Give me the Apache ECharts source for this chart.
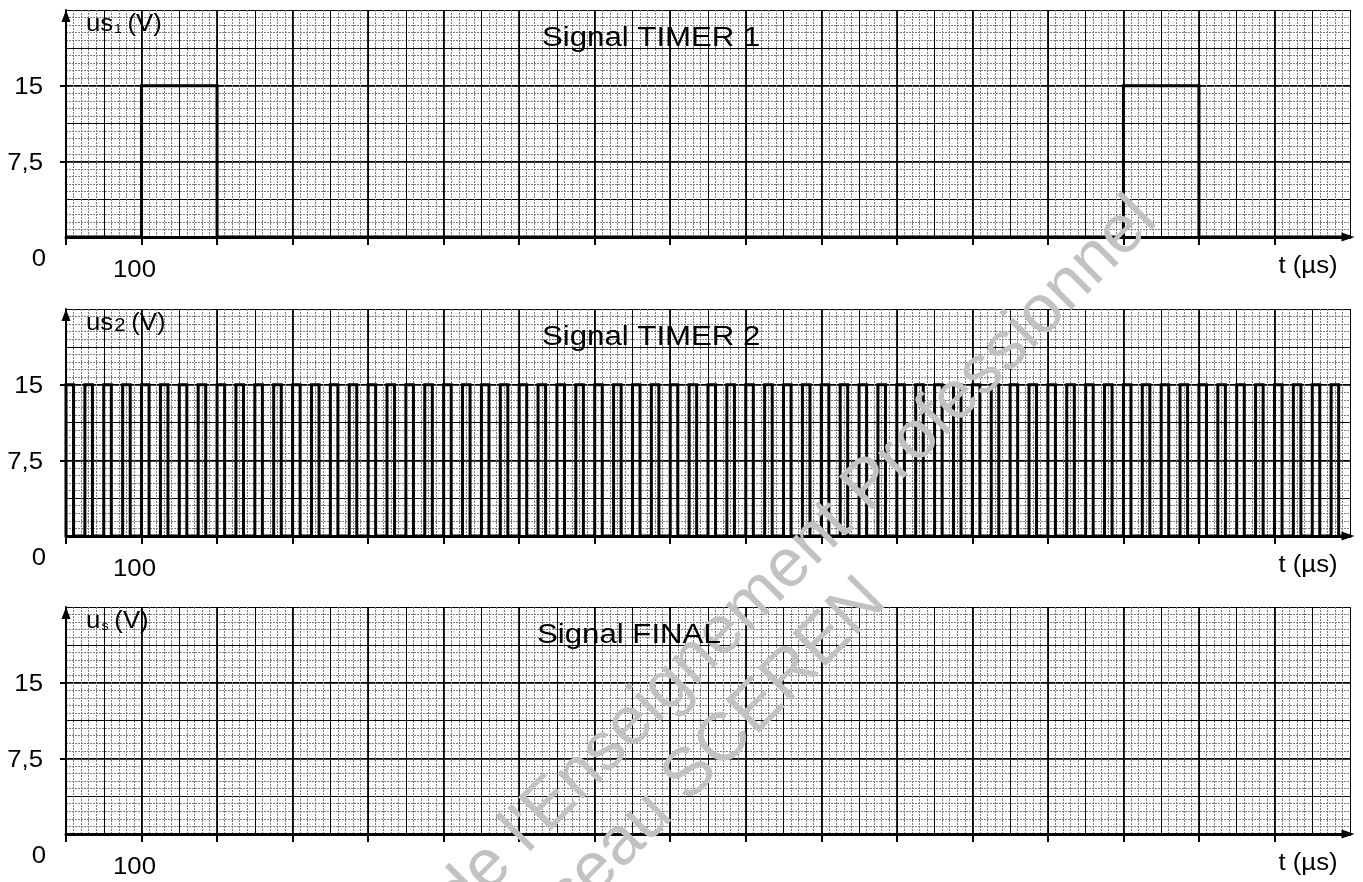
<!DOCTYPE html>
<html>
<head>
<meta charset="utf-8">
<script src="https://cdn.jsdelivr.net/npm/echarts@6/dist/echarts.min.js"></script>
<style>
  html, body { margin: 0; padding: 0; background: #fff; }
  #chart { width: 1363px; height: 882px; }
</style>
</head>
<body>
<div id="chart"></div>
<script>
// ---- axis ranges and labels ----
const T_MAX = 1700;            // µs
const U_MAX = 22.5;            // V
const timeTickValues = [0, 100, 200, 300, 400, 500, 600, 700, 800, 900, 1000, 1100, 1200, 1300, 1400, 1500, 1600];
const timeLabelValues = [100];
const timeLabelTexts = ['100'];
const voltTickValues = [7.5, 15];
const voltLabelTexts = ['7,5', '15'];
const originLabel = '0';
const timeAxisName = 't (µs)';

// ---- panels ----
const panelTitles = ['Signal TIMER 1', 'Signal TIMER 2', 'Signal FINAL'];
const panelUnitBase = ['us', 'us', 'u'];
const panelUnitSub = ['1', '2', 's'];
const panelUnitTail = ['(V)', '(V)', '(V)'];

// ---- TIMER 1 : waveform breakpoints ----
const timer1Times = [0, 100, 100, 200, 200, 1400, 1400, 1500, 1500, 1700];
const timer1Volts = [0, 0, 15, 15, 0, 0, 15, 15, 0, 0];

// ---- TIMER 2 : rising edges (µs), pulse width and level ----
const timer2Rises = [0, 25, 50, 75, 100, 125, 150, 175, 200, 225, 250, 275, 300, 325, 350, 375,
  400, 425, 450, 475, 500, 525, 550, 575, 600, 625, 650, 675, 700, 725, 750, 775,
  800, 825, 850, 875, 900, 925, 950, 975, 1000, 1025, 1050, 1075, 1100, 1125, 1150, 1175,
  1200, 1225, 1250, 1275, 1300, 1325, 1350, 1375, 1400, 1425, 1450, 1475, 1500, 1525, 1550, 1575,
  1600, 1625, 1650, 1675];
const timer2Width = 10;
const timer2Level = 15;

// ---- watermark ----
const watermarkLines = ["de l'Enseignement Professionnel", 'Réseau SCEREN'];

// ---- layout ----
const PANEL_TOPS = [10, 309, 607];
const PANEL_H = 227;
const GRID_LEFT = 66;
const GRID_RIGHT = 13;
const FONT = '"Liberation Sans", Arial, Helvetica, sans-serif';
const STRETCH = 1.12;

const minorLine = { color: '#7c7c7c', width: 1, type: [2, 1] };
const midLine = { color: '#000', width: 1 };
const majorLine = { color: '#000', width: 1.7 };

const timer1Data = timer1Times.map((t, i) => [t, timer1Volts[i]]);
const timer2Data = [];
timer2Rises.forEach(r => {
  timer2Data.push([r, 0], [r, timer2Level], [r + timer2Width, timer2Level], [r + timer2Width, 0]);
});
timer2Data.push([T_MAX, 0]);

const grids = [], xAxes = [], yAxes = [];
PANEL_TOPS.forEach((top, gi) => {
  grids.push({ left: GRID_LEFT, right: GRID_RIGHT, top: top, height: PANEL_H, containLabel: false, outerBoundsMode: 'none' });
  [[10, minorLine], [50, midLine], [100, majorLine]].forEach(([iv, ls], k) => {
    const main = k === 2;
    xAxes.push({
      gridIndex: gi, type: 'value', position: 'bottom', min: 0, max: T_MAX, interval: iv,
      axisLabel: { show: false },
      splitLine: { show: true, lineStyle: ls },
      axisLine: main ? {
        show: true, onZero: false, symbol: ['none', 'triangle'], symbolSize: [9, 13], symbolOffset: [0, -2],
        lineStyle: { color: '#000', width: 3 }
      } : { show: false },
      axisTick: main ? {
        show: true, inside: false, length: 8, customValues: timeTickValues,
        lineStyle: { color: '#000', width: 2 }
      } : { show: false }
    });
  });
  [[0.75, minorLine], [3.75, midLine], [7.5, majorLine]].forEach(([iv, ls], k) => {
    const main = k === 2;
    yAxes.push({
      gridIndex: gi, type: 'value', position: 'left', min: 0, max: U_MAX, interval: iv,
      axisLabel: { show: false },
      splitLine: { show: true, lineStyle: ls },
      axisLine: main ? {
        show: true, onZero: false, symbol: ['none', 'triangle'], symbolSize: [9, 12], symbolOffset: [0, -6],
        lineStyle: { color: '#000', width: 2 }
      } : { show: false },
      axisTick: main ? {
        show: true, inside: false, length: 6, customValues: voltTickValues,
        lineStyle: { color: '#000', width: 2 }
      } : { show: false }
    });
  });
});

const signalLine = { color: '#000', width: 3, join: 'miter' };
const series = [
  { type: 'line', xAxisIndex: 2, yAxisIndex: 2, data: timer1Data, symbol: 'none', clip: false, z: 10, lineStyle: signalLine },
  { type: 'line', xAxisIndex: 5, yAxisIndex: 5, data: timer2Data, symbol: 'none', clip: false, z: 10, lineStyle: signalLine }
];

const chart = echarts.init(document.getElementById('chart'), null, { renderer: 'canvas' });
chart.setOption({
  animation: false,
  backgroundColor: '#fff',
  grid: grids,
  xAxis: xAxes,
  yAxis: yAxes,
  series: series
});

// ---- texts placed from axis coordinates ----
function px(gi, t, u) {
  return chart.convertToPixel({ gridIndex: gi }, [t, u]);
}
function label(text, x, y, align, vAlign, size, stretch) {
  return {
    type: 'text', x: x, y: y, scaleX: stretch || STRETCH, z: 20, silent: true,
    style: {
      text: text, x: 0, y: 0, fill: '#000', fontSize: size, fontFamily: FONT,
      align: align, textAlign: align, verticalAlign: vAlign, textVerticalAlign: vAlign
    }
  };
}

const subSizes = [12, 18, 13];
const graphics = [];
PANEL_TOPS.forEach((top, gi) => {
  const o = px(gi, 0, 0);
  const topLeft = px(gi, 0, U_MAX);
  // title
  graphics.push(label(panelTitles[gi], gi === 2 ? 537 : 542, topLeft[1] + 29, 'left', 'middle', 27, 1.155));
  // axis name (vertical)
  graphics.push({
    type: 'text', x: o[0] + 20, y: topLeft[1] + 13, scaleX: STRETCH, z: 20, silent: true,
    style: {
      text: '{a|' + panelUnitBase[gi] + '}{b|' + panelUnitSub[gi] + '}{c|' + panelUnitTail[gi] + '}',
      x: 0, y: 0, fill: '#000', fontFamily: FONT, fontSize: 23,
      align: 'left', textAlign: 'left', verticalAlign: 'middle', textVerticalAlign: 'middle',
      rich: {
        a: { fontSize: 23, fontFamily: FONT, fill: '#000', verticalAlign: 'bottom', lineHeight: 26 },
        b: { fontSize: subSizes[gi], fontFamily: FONT, fill: '#000', verticalAlign: 'bottom', lineHeight: 26, padding: [0, 0, 0, 1] },
        c: { fontSize: 23, fontFamily: FONT, fill: '#000', verticalAlign: 'bottom', lineHeight: 26, padding: [0, 0, 0, 5] }
      }
    }
  });
  // voltage labels
  voltTickValues.forEach((v, k) => {
    const p = px(gi, 0, v);
    graphics.push(label(voltLabelTexts[k], p[0] - 23, p[1] + 2, 'right', 'middle', 23));
  });
  // origin
  graphics.push(label(originLabel, o[0] - 27, o[1] + 23, 'center', 'middle', 23));
  // time labels
  timeLabelValues.forEach((t, k) => {
    const p = px(gi, t, 0);
    graphics.push(label(timeLabelTexts[k], p[0] - 7, p[1] + 34, 'center', 'middle', 23));
  });
  // time axis name
  const e = px(gi, T_MAX, 0);
  graphics.push(label(timeAxisName, e[0] - 42, e[1] + 30, 'center', 'middle', 23));
});

// diagonal watermark
graphics.push({
  type: 'text', x: 1146, y: 209, rotation: Math.PI / 4, z: 15, silent: true,
  style: { text: watermarkLines[0], x: 0, y: 0, fill: '#c2c2c2', fontSize: 68, fontFamily: FONT,
    align: 'right', textAlign: 'right', verticalAlign: 'middle', textVerticalAlign: 'middle' }
});
graphics.push({
  type: 'text', x: 875, y: 590, rotation: Math.PI / 4, z: 15, silent: true,
  style: { text: watermarkLines[1], x: 0, y: 0, fill: '#c2c2c2', fontSize: 68, fontFamily: FONT,
    align: 'right', textAlign: 'right', verticalAlign: 'middle', textVerticalAlign: 'middle' }
});

chart.setOption({ graphic: { elements: graphics } });
</script>
</body>
</html>
